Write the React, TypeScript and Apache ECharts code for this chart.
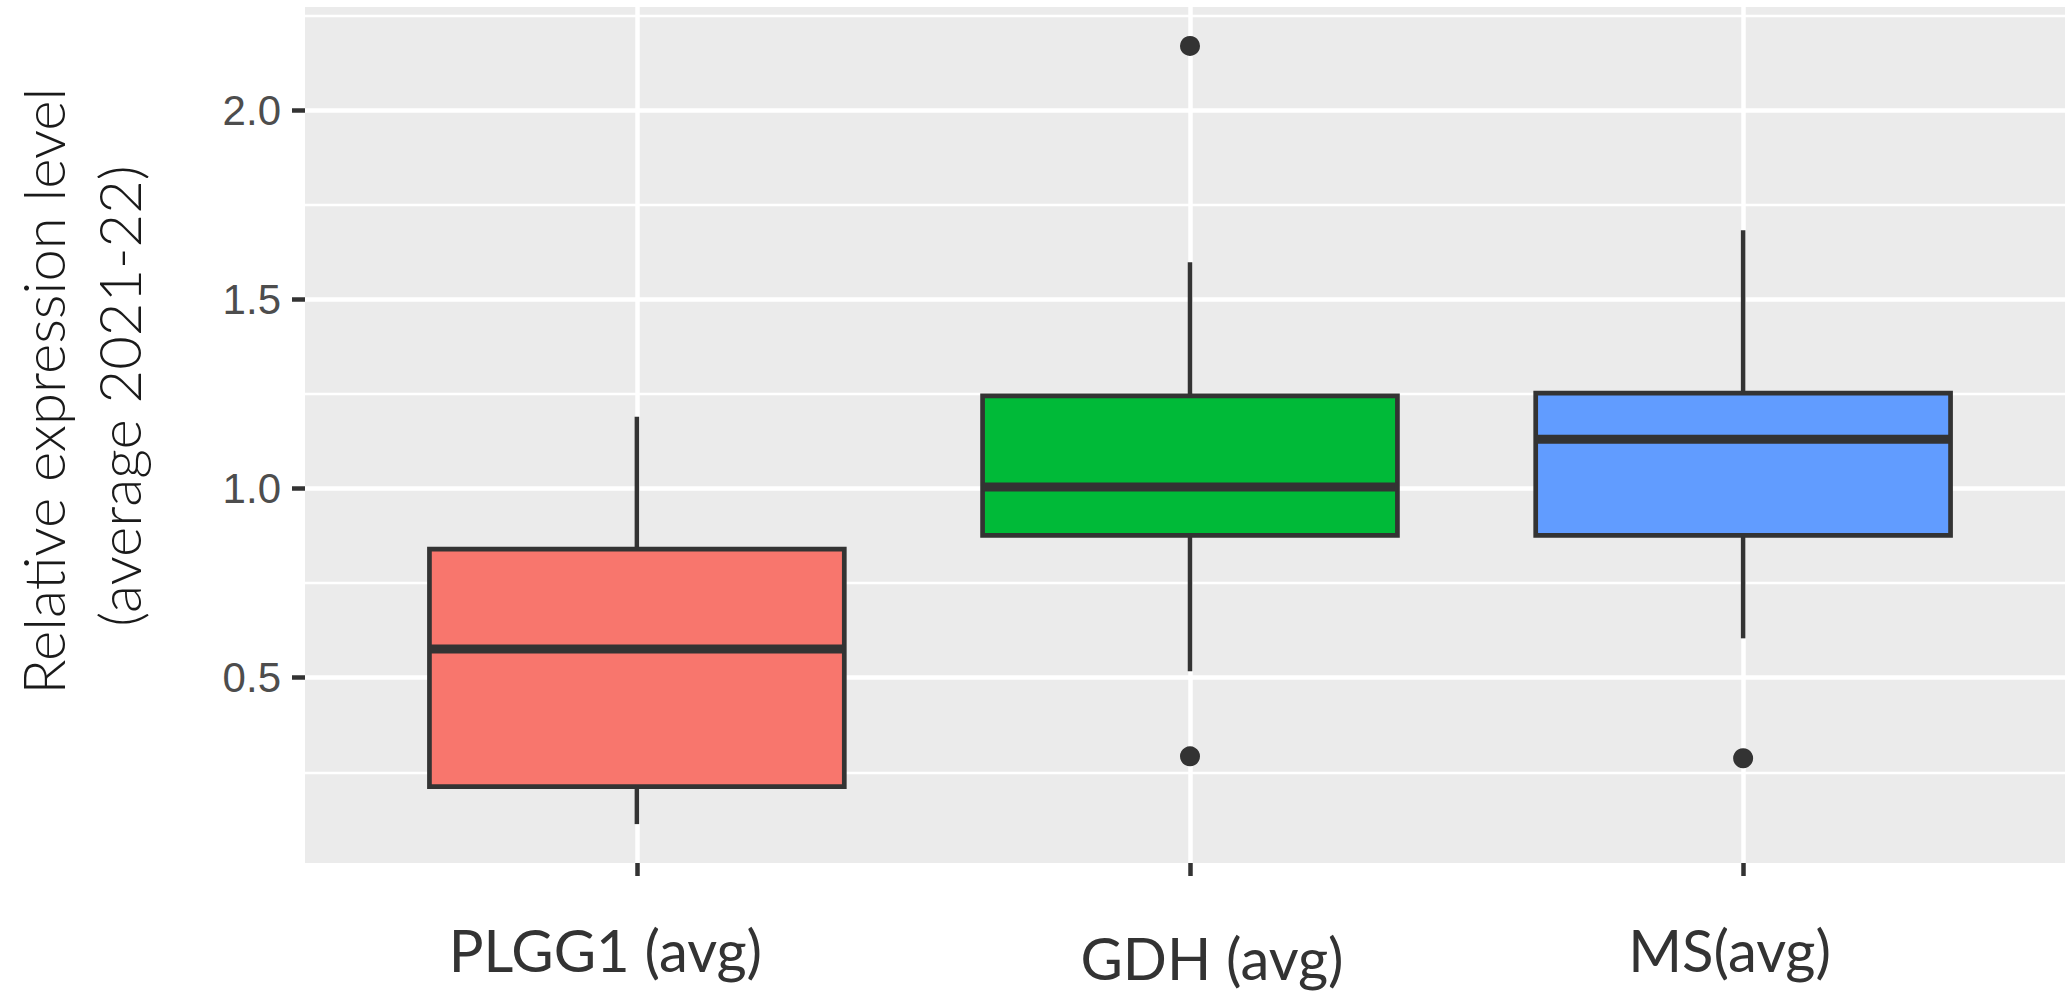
import React, { useEffect, useRef } from "react";
import * as echarts from "echarts";

// ---- data ----
const categories = ["PLGG1 (avg)", "GDH (avg)", "MS(avg)"];
const whiskerLow = [0.113, 0.517, 0.604];
const q1 = [0.212, 0.876, 0.876];
const median = [0.576, 1.004, 1.13];
const q3 = [0.84, 1.245, 1.252];
const whiskerHigh = [1.19, 1.598, 1.683];
const outlierCategoryIndex = [1, 1, 2];
const outlierValue = [2.17, 0.292, 0.287];
const yTickValues = [0.5, 1.0, 1.5, 2.0];
const yMinorGridValues = [0.25, 0.75, 1.25, 1.75, 2.25];
const fillColors = ["#F8766D", "#00BA38", "#619CFF"];

// ggplot-like expansions
const allValues = [...whiskerLow, ...whiskerHigh, ...outlierValue];
const dataMin = Math.min(...allValues);
const dataMax = Math.max(...allValues);
const yLo = dataMin - 0.05 * (dataMax - dataMin);
const yHi = dataMax + 0.05 * (dataMax - dataMin);
const xLo = 1 - 0.6;
const xHi = categories.length + 0.6;
const HALF_BOX = 0.375;

const LINE = "#333333";
const CAT_FONT = "Lato";

export default function App() {
  const ref = useRef<HTMLDivElement>(null);

  useEffect(() => {
    if (!ref.current) return;
    const chart = echarts.init(ref.current, undefined, { renderer: "svg" });

    const boxData = categories.map((_, i) => [
      i + 1,
      whiskerLow[i],
      q1[i],
      median[i],
      q3[i],
      whiskerHigh[i],
    ]);
    const outlierData = outlierValue.map((v, k) => [outlierCategoryIndex[k] + 1, v]);

    const gridLines: any[] = [
      ...yTickValues.map((v) => ({ yAxis: v, lineStyle: { color: "#ffffff", width: 4.5, type: "solid" } })),
      ...yMinorGridValues.map((v) => ({ yAxis: v, lineStyle: { color: "#ffffff", width: 2.4, type: "solid" } })),
      ...categories.map((_, i) => ({ xAxis: i + 1, lineStyle: { color: "#ffffff", width: 4.5, type: "solid" } })),
    ];

    const rich: any = {};
    const pads = [
      [0, 63, 0, 0],
      [8, 0, 0, 44],
      [0, 27, 0, 0],
    ];
    categories.forEach((_, i) => {
      rich["c" + i] = {
        fontFamily: CAT_FONT,
        fontWeight: 400,
        fontSize: 58,
        color: "#333333",
        padding: pads[i],
      };
    });

    const titleStyle = {
      fontFamily: CAT_FONT,
      fontWeight: 300,
      fontSize: 58,
      fill: "#1a1a1a",
      align: "center",
      verticalAlign: "middle",
      textAlign: "center",
      textVerticalAlign: "middle",
    };

    const option: any = {
      animation: false,
      backgroundColor: "#ffffff",
      grid: {
        left: 305,
        top: 7,
        bottom: 129,
        right: -10,
        show: true,
        backgroundColor: "#EBEBEB",
        borderWidth: 0,
        containLabel: false,
        outerBoundsMode: "none",
      },
      xAxis: {
        type: "value",
        min: xLo,
        max: xHi,
        axisLine: { show: false },
        splitLine: { show: false },
        axisTick: {
          show: true,
          customValues: categories.map((_, i) => i + 1),
          length: 13,
          lineStyle: { color: LINE, width: 4.5 },
        },
        axisLabel: {
          show: true,
          customValues: categories.map((_, i) => i + 1),
          margin: 57,
          fontFamily: CAT_FONT,
          fontWeight: 400,
          fontSize: 58,
          color: "#333333",
          formatter: (v: number) => {
            const i = Math.round(v) - 1;
            return `{c${i}|${categories[i]}}`;
          },
          rich,
        },
      },
      yAxis: {
        type: "value",
        min: yLo,
        max: yHi,
        axisLine: { show: false },
        splitLine: { show: false },
        axisTick: {
          show: true,
          customValues: yTickValues,
          length: 13,
          lineStyle: { color: LINE, width: 4.5 },
        },
        axisLabel: {
          show: true,
          customValues: yTickValues,
          margin: 24,
          fontFamily: "Liberation Sans",
          fontSize: 42,
          color: "#4D4D4D",
          formatter: (v: number) => v.toFixed(1),
        },
      },
      graphic: [
        {
          type: "text",
          x: 42,
          y: 391,
          rotation: Math.PI / 2,
          style: { text: "Relative expression level", ...titleStyle },
        },
        {
          type: "text",
          x: 118,
          y: 396,
          rotation: Math.PI / 2,
          style: { text: "(average 2021-22)", ...titleStyle },
        },
      ],
      series: [
        {
          type: "custom",
          name: "box",
          z: 2,
          data: boxData,
          encode: { x: 0, y: [1, 2, 3, 4, 5] },
          renderItem: (params: any, api: any) => {
            const x = api.value(0);
            const i = params.dataIndex;
            const pLo = api.coord([x, api.value(1)]);
            const pQ1 = api.coord([x, api.value(2)]);
            const pMed = api.coord([x, api.value(3)]);
            const pQ3 = api.coord([x, api.value(4)]);
            const pHi = api.coord([x, api.value(5)]);
            const left = api.coord([x - HALF_BOX, api.value(4)])[0];
            const right = api.coord([x + HALF_BOX, api.value(4)])[0];
            return {
              type: "group",
              children: [
                {
                  type: "line",
                  shape: { x1: pLo[0], y1: pLo[1], x2: pQ1[0], y2: pQ1[1] },
                  style: { stroke: LINE, lineWidth: 4.5 },
                },
                {
                  type: "line",
                  shape: { x1: pQ3[0], y1: pQ3[1], x2: pHi[0], y2: pHi[1] },
                  style: { stroke: LINE, lineWidth: 4.5 },
                },
                {
                  type: "rect",
                  shape: { x: left, y: pQ3[1], width: right - left, height: pQ1[1] - pQ3[1] },
                  style: { fill: fillColors[i], stroke: LINE, lineWidth: 4.7 },
                },
                {
                  type: "line",
                  shape: { x1: left, y1: pMed[1], x2: right, y2: pMed[1] },
                  style: { stroke: LINE, lineWidth: 9, lineCap: "butt" },
                },
              ],
            };
          },
          markLine: {
            silent: true,
            z: 1,
            symbol: ["none", "none"],
            label: { show: false },
            data: gridLines,
          },
        },
        {
          type: "scatter",
          name: "outliers",
          z: 3,
          data: outlierData,
          symbol: "circle",
          symbolSize: 20,
          itemStyle: { color: LINE, opacity: 1 },
        },
      ],
    };

    chart.setOption(option);
    return () => chart.dispose();
  }, []);

  return (
    <div
      ref={ref}
      style={{ position: "absolute", left: 0, top: 0, width: "2065px", height: "992px" }}
    />
  );
}
